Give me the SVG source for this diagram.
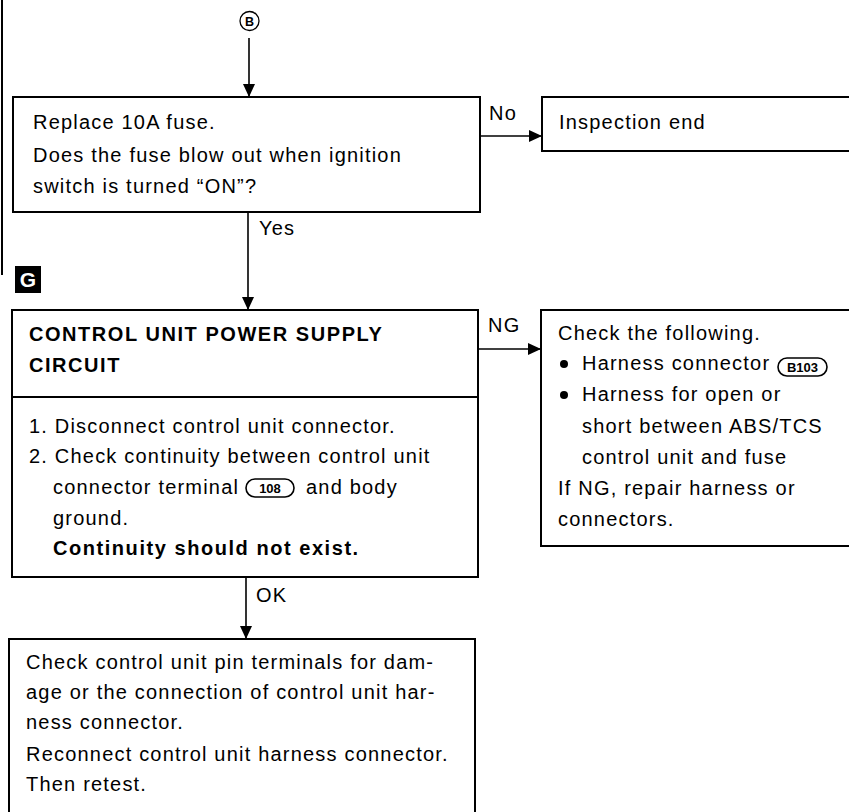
<svg xmlns="http://www.w3.org/2000/svg" width="849" height="812" viewBox="0 0 849 812">
<style>
  .box{fill:#fff;stroke:#000;stroke-width:2}
  .ln{fill:none;stroke:#000;stroke-width:1.6}
  .t{font-family:"Liberation Sans",Arial,Helvetica,sans-serif;font-size:20px;letter-spacing:1.2px;fill:#000}
  .b{font-weight:bold;letter-spacing:1.55px}
  .pill{fill:#fff;stroke:#000;stroke-width:1.6}
  .pt{font-family:"Liberation Sans",Arial,Helvetica,sans-serif;font-size:13px;font-weight:bold;fill:#000;text-anchor:middle}
</style>
<defs>
  <marker id="ah" markerUnits="userSpaceOnUse" markerWidth="14" markerHeight="12" refX="13" refY="6" orient="auto">
    <path d="M0,0 L13,6 L0,12 z" fill="#000"/>
  </marker>
</defs>
<rect width="849" height="812" fill="#fff"/>
<line x1="2" y1="0" x2="2" y2="275" stroke="#000" stroke-width="2"/>

<g id="connectors">
  <circle cx="249.5" cy="21" r="9.5" fill="none" stroke="#000" stroke-width="1.3"/>
  <text x="249.5" y="25.5" font-family="Liberation Sans,Arial,sans-serif" font-size="12.5" font-weight="bold" text-anchor="middle">B</text>
  <line class="ln" x1="249" y1="38" x2="249" y2="97" marker-end="url(#ah)"/>
  <line class="ln" x1="480" y1="136" x2="542" y2="136" marker-end="url(#ah)"/>
  <text class="t" x="489" y="120">No</text>
  <line class="ln" x1="248" y1="212" x2="248" y2="310" marker-end="url(#ah)"/>
  <text class="t" x="259" y="235">Yes</text>
  <line class="ln" x1="478" y1="349" x2="541" y2="349" marker-end="url(#ah)"/>
  <text class="t" x="488" y="332">NG</text>
  <line class="ln" x1="246" y1="577" x2="246" y2="639" marker-end="url(#ah)"/>
  <text class="t" x="256" y="602">OK</text>
</g>

<g id="label-G">
  <rect x="15" y="266" width="26" height="27" fill="#000"/>
  <text x="28" y="287" font-family="Liberation Sans,Arial,sans-serif" font-size="21" font-weight="bold" fill="#fff" text-anchor="middle">G</text>
</g>

<g id="node-replace-fuse">
  <rect class="box" x="13" y="97" width="467" height="115"/>
  <text class="t" x="33" y="129">Replace 10A fuse.</text>
  <text class="t" x="33" y="161.5">Does the fuse blow out when ignition</text>
  <text class="t" x="33" y="193">switch is turned “ON”?</text>
</g>

<g id="node-inspection-end">
  <rect class="box" x="542" y="97" width="312" height="54"/>
  <text class="t" x="559" y="129">Inspection end</text>
</g>

<g id="node-power-supply">
  <rect class="box" x="12" y="310" width="466" height="267"/>
  <line x1="12" y1="397" x2="478" y2="397" stroke="#000" stroke-width="2"/>
  <text class="t b" x="29" y="341">CONTROL UNIT POWER SUPPLY</text>
  <text class="t b" x="29" y="372">CIRCUIT</text>
  <text class="t" x="29" y="433">1. Disconnect control unit connector.</text>
  <text class="t" x="29" y="463">2. Check continuity between control unit</text>
  <text class="t" x="53" y="494">connector terminal</text>
  <rect class="pill" x="246" y="479" width="48" height="18" rx="9"/>
  <text class="pt" x="270" y="493">108</text>
  <text class="t" x="306" y="494">and body</text>
  <text class="t" x="53" y="525">ground.</text>
  <text class="t b" x="53" y="555">Continuity should not exist.</text>
</g>

<g id="node-check-following">
  <rect class="box" x="541" y="310" width="312" height="236"/>
  <text class="t" x="558" y="340">Check the following.</text>
  <circle cx="564" cy="364" r="4" fill="#000"/>
  <text class="t" x="582" y="370">Harness connector</text>
  <rect class="pill" x="778" y="358" width="49" height="18" rx="9"/>
  <text class="pt" x="802.5" y="372">B103</text>
  <circle cx="564" cy="395" r="4" fill="#000"/>
  <text class="t" x="582" y="401">Harness for open or</text>
  <text class="t" x="582" y="433">short between ABS/TCS</text>
  <text class="t" x="582" y="464">control unit and fuse</text>
  <text class="t" x="558" y="495">If NG, repair harness or</text>
  <text class="t" x="558" y="526">connectors.</text>
</g>

<g id="node-check-pins">
  <rect class="box" x="9" y="639" width="466" height="180"/>
  <text class="t" x="26" y="669">Check control unit pin terminals for dam-</text>
  <text class="t" x="26" y="699">age or the connection of control unit har-</text>
  <text class="t" x="26" y="729">ness connector.</text>
  <text class="t" x="26" y="761">Reconnect control unit harness connector.</text>
  <text class="t" x="26" y="791">Then retest.</text>
</g>
</svg>
